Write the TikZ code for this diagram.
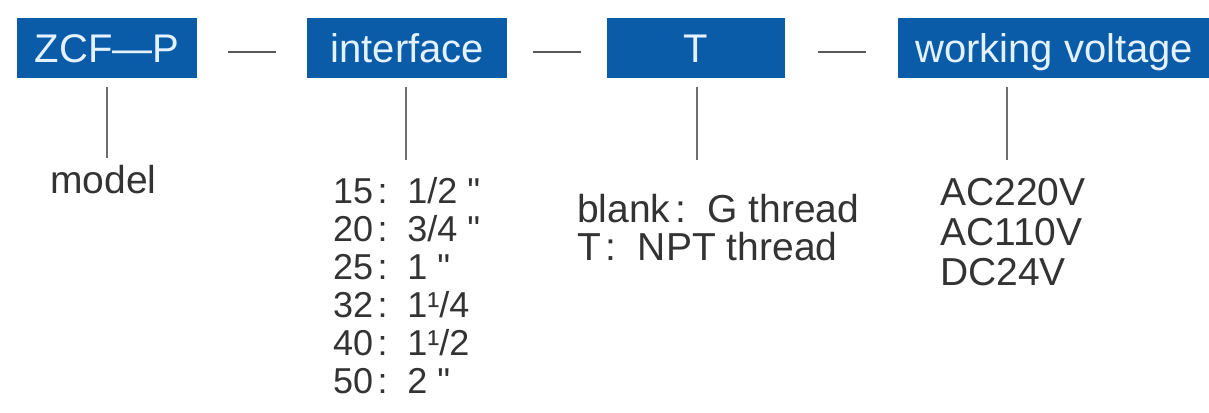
\documentclass[tikz,border=0pt]{standalone}
\usepackage{fontspec}
\setmainfont{Liberation Sans}
\usetikzlibrary{positioning,calc}
\definecolor{codeblue}{HTML}{0A5CA8}
\definecolor{codetext}{HTML}{E4F2FF}
\definecolor{stemgray}{HTML}{6E6E6E}
\definecolor{inkgray}{HTML}{333333}
\newcommand{\fcolon}{\hspace{0.12em}:\hspace{0.55em}}
\newcommand{\inch}{\textquotedbl}

\begin{document}
\begin{tikzpicture}[x=1pt,y=-1pt,
  every node/.style={inner sep=0pt},
  codebox/.style={rectangle,fill=codeblue,text=codetext,minimum height=60pt,
                  text height=29pt,text depth=0pt,font=\fontsize{40}{40}\selectfont},
  sepbar/.style={rectangle,fill=black!65,minimum width=48pt,minimum height=2.5pt},
  stem/.style={draw=stemgray,line width=2pt,shorten <=9pt},
  opts/.style={text=inkgray,align=left,anchor=base west},
]
\useasboundingbox (0,0) rectangle (1209,412);

% code boxes
\node[codebox,minimum width=180pt] (zcf) at (107,48) {ZCF—P};
\node[codebox,minimum width=200pt,right=110pt of zcf] (intf) {interface};
\node[codebox,minimum width=178pt,right=99pt of intf] (thr) {T};
\node[codebox,minimum width=312pt,right=113pt of thr] (volt) {working voltage};

% separators
\node[sepbar] (sep1) at ($(zcf.east)!.5!(intf.west)+(0,4)$) {};
\node[sepbar] (sep2) at ($(intf.east)!.5!(thr.west)+(0,4)$) {};
\node[sepbar] (sep3) at ($(thr.east)!.5!(volt.west)+(0,4)$) {};

% option texts (base = last line)
\node[opts,font=\fontsize{39}{38}\selectfont] (model) at (50,193) {model};
\node[opts,font=\fontsize{36}{38}\selectfont] (sizes) at (333,393)
  {15\fcolon 1/2 \inch\\20\fcolon 3/4 \inch\\25\fcolon 1 \inch\\32\fcolon 1¹/4\\40\fcolon 1¹/2\\50\fcolon 2 \inch};
\node[opts,font=\fontsize{39}{38}\selectfont] (threads) at (577,260)
  {blank\fcolon G thread\\T\fcolon NPT thread};
\node[opts,font=\fontsize{39}{40}\selectfont] (volts) at (940,285)
  {AC220V\\AC110V\\DC24V};

% stems
\coordinate (zcfend) at (107,158);
\coordinate (intfend) at (406,160);
\coordinate (thrend) at (697,160);
\coordinate (voltend) at (1007,160);
\draw[stem] (zcf.south -| zcfend) -- (zcfend);
\draw[stem] (intf.south -| intfend) -- (intfend);
\draw[stem] (thr.south -| thrend) -- (thrend);
\draw[stem] (volt.south -| voltend) -- (voltend);
\end{tikzpicture}
\end{document}
